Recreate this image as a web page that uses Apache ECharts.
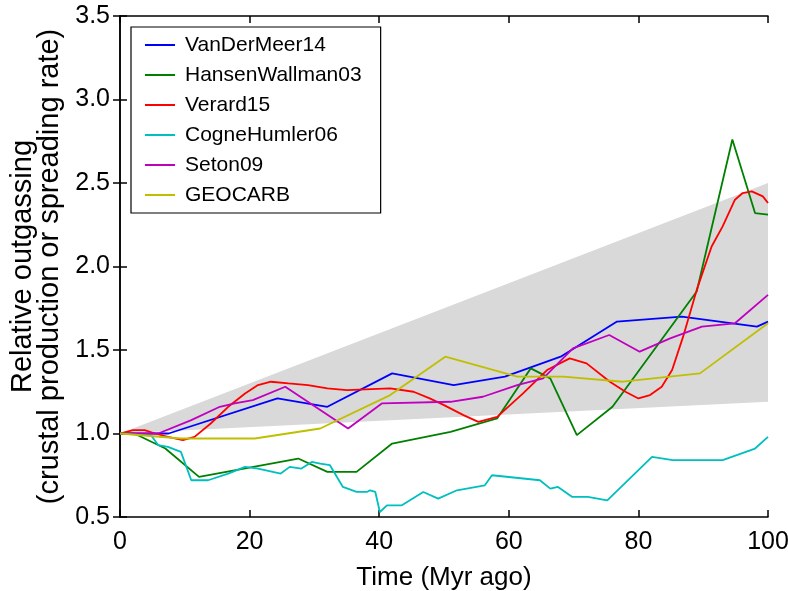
<!DOCTYPE html>
<html>
<head>
<meta charset="utf-8">
<script src="https://cdn.jsdelivr.net/npm/echarts@6/dist/echarts.min.js"></script>
<style>html,body{margin:0;padding:0;background:#fff}#chart{width:788px;height:591px}</style>
</head>
<body>
<div id="chart"></div>
<script>
// ---- data ----
const seriesNames = ['VanDerMeer14', 'HansenWallman03', 'Verard15', 'CogneHumler06', 'Seton09', 'GEOCARB'];

const vdmX = [0, 7.5, 24.3, 32, 42, 51.5, 59.4, 68, 76.7, 86.7, 98.3, 100];
const vdmY = [1.0, 1.0, 1.21, 1.16, 1.36, 1.29, 1.34, 1.46, 1.67, 1.70, 1.64, 1.67];

const hwX = [0, 2.2, 7, 12.2, 27.5, 32, 36.5, 42, 51, 58.2, 63.4, 66.4, 70.5, 76, 89, 94.5, 98, 100];
const hwY = [1.0, 1.0, 0.91, 0.74, 0.85, 0.77, 0.77, 0.94, 1.01, 1.09, 1.39, 1.33, 0.99, 1.16, 1.85, 2.76, 2.32, 2.31];

const vrX = [0, 2, 3.8, 5.4, 7.4, 9.7, 11.5, 14, 16.7, 19.3, 21.3, 23.3, 26, 29, 32, 35, 41.7, 45.3, 47.8, 50, 53, 55.3, 58.2, 62.2, 65.9, 69.4, 72, 75.6, 78, 80, 81.8, 83.6, 85.2, 86.9, 89, 91.3, 93, 94.9, 96.1, 97.5, 99.2, 100];
const vrY = [1.0, 1.02, 1.02, 1.0, 0.98, 0.96, 0.98, 1.06, 1.16, 1.24, 1.29, 1.31, 1.30, 1.29, 1.27, 1.26, 1.27, 1.25, 1.21, 1.17, 1.11, 1.07, 1.10, 1.24, 1.38, 1.45, 1.42, 1.31, 1.25, 1.21, 1.23, 1.28, 1.38, 1.58, 1.86, 2.12, 2.24, 2.40, 2.44, 2.45, 2.42, 2.38];

const cgX = [0, 4.8, 5.9, 7.4, 9.4, 11, 13.6, 16.7, 19.3, 21.3, 24.8, 26.2, 28, 29.6, 30.9, 32.4, 34.4, 36.5, 38.1, 38.6, 39.4, 40.1, 41.2, 43.5, 46.8, 49.1, 52, 56.3, 57.4, 64.8, 66.4, 67.6, 69.8, 72.2, 75.2, 82.1, 85.3, 93, 98, 100];
const cgY = [1.0, 0.99, 0.93, 0.92, 0.89, 0.72, 0.72, 0.76, 0.80, 0.79, 0.76, 0.80, 0.79, 0.83, 0.82, 0.81, 0.68, 0.65, 0.65, 0.66, 0.65, 0.53, 0.57, 0.57, 0.65, 0.61, 0.66, 0.69, 0.75, 0.72, 0.67, 0.68, 0.62, 0.62, 0.60, 0.86, 0.84, 0.84, 0.91, 0.98];

const stX = [0, 5.9, 11, 15.4, 17.7, 20.5, 25.5, 35.2, 40.4, 51, 56, 61.3, 65.3, 69.9, 75.5, 80.2, 84.9, 89.8, 94.9, 100];
const stY = [1.0, 1.0, 1.08, 1.16, 1.18, 1.20, 1.28, 1.03, 1.18, 1.19, 1.22, 1.29, 1.33, 1.51, 1.59, 1.49, 1.57, 1.64, 1.66, 1.83];

const gcX = [0, 9.4, 20.8, 30.9, 41.7, 50.2, 61.3, 68.4, 77.6, 89.5, 100];
const gcY = [1.0, 0.97, 0.97, 1.03, 1.23, 1.46, 1.34, 1.34, 1.31, 1.36, 1.66];

// uncertainty band (shaded wedge)
const bandX = [0, 100];
const bandLower = [1.0, 1.19];
const bandUpper = [1.0, 2.5];

const xTicks = [0, 20, 40, 60, 80, 100];
const yTicks = [0.5, 1.0, 1.5, 2.0, 2.5, 3.0, 3.5];

// ---- styles ----
const colors = ['#0000ff', '#008000', '#ff0000', '#00bfbf', '#bf00bf', '#bfbf00'];
const FONT = 'Liberation Sans, Arial, Helvetica, sans-serif';

function pairs(xs, ys) { return xs.map((x, i) => [x, ys[i]]); }

const lineData = [pairs(vdmX, vdmY), pairs(hwX, hwY), pairs(vrX, vrY), pairs(cgX, cgY), pairs(stX, stY), pairs(gcX, gcY)];

const series = [
  {
    type: 'custom', name: 'band', silent: true, z: 1,
    data: [0],
    renderItem: function (params, api) {
      const pts = [];
      bandX.forEach((x, i) => pts.push(api.coord([x, bandUpper[i]])));
      for (let i = bandX.length - 1; i >= 0; i--) pts.push(api.coord([bandX[i], bandLower[i]]));
      return { type: 'polygon', shape: { points: pts }, style: { fill: '#d9d9d9', stroke: null } };
    }
  }
];
seriesNames.forEach((n, i) => {
  series.push({
    type: 'line', name: n, data: lineData[i], symbol: 'none',
    lineStyle: { color: colors[i], width: 1.8 }, itemStyle: { color: colors[i] }, z: 3 + i
  });
});

const axisLine = { show: true, lineStyle: { color: '#000', width: 1.5 } };
const tick = { show: true, inside: true, length: 7, lineStyle: { color: '#000', width: 1.5 } };

const chart = echarts.init(document.getElementById('chart'), null, { renderer: 'canvas' });
chart.setOption({
  animation: false,
  backgroundColor: '#fff',
  grid: { left: 120, right: 20, top: 16, bottom: 74, containLabel: false, outerBoundsMode: 'none' },
  legend: {
    data: seriesNames, orient: 'vertical', left: 131, top: 27,
    backgroundColor: '#fff', borderColor: '#000', borderWidth: 1.2,
    padding: [7, 19, 7, 14], itemWidth: 30, itemHeight: 2, itemGap: 8, icon: 'rect',
    textStyle: { fontFamily: FONT, fontSize: 21, color: '#000', lineHeight: 22, padding: [0, 0, 0, 5] }
  },
  xAxis: [
    {
      type: 'value', min: 0, max: 100, interval: 20, position: 'bottom',
      name: 'Time (Myr ago)', nameLocation: 'middle', nameGap: 48,
      nameTextStyle: { fontFamily: FONT, fontSize: 26, color: '#000' },
      axisLine: axisLine, axisTick: tick, splitLine: { show: false },
      axisLabel: { fontFamily: FONT, fontSize: 25, color: '#000', margin: 13,
        customValues: xTicks, formatter: v => String(v) }
    },
    {
      type: 'value', min: 0, max: 100, interval: 20, position: 'top',
      axisLine: axisLine, axisTick: tick, axisLabel: { show: false }, splitLine: { show: false }
    }
  ],
  yAxis: [
    {
      type: 'value', min: 0.5, max: 3.5, interval: 0.5, position: 'left',
      name: 'Relative outgassing\n(crustal production or spreading rate)',
      nameLocation: 'middle', nameGap: 57, nameRotate: 90,
      nameTextStyle: { fontFamily: FONT, fontSize: 29, color: '#000', lineHeight: 27 },
      axisLine: axisLine, axisTick: tick, splitLine: { show: false },
      axisLabel: { fontFamily: FONT, fontSize: 25, color: '#000', margin: 10,
        customValues: yTicks, formatter: v => v.toFixed(1) }
    },
    {
      type: 'value', min: 0.5, max: 3.5, interval: 0.5, position: 'right',
      axisLine: axisLine, axisTick: tick, axisLabel: { show: false }, splitLine: { show: false }
    }
  ],
  series: series
});
</script>
</body>
</html>
